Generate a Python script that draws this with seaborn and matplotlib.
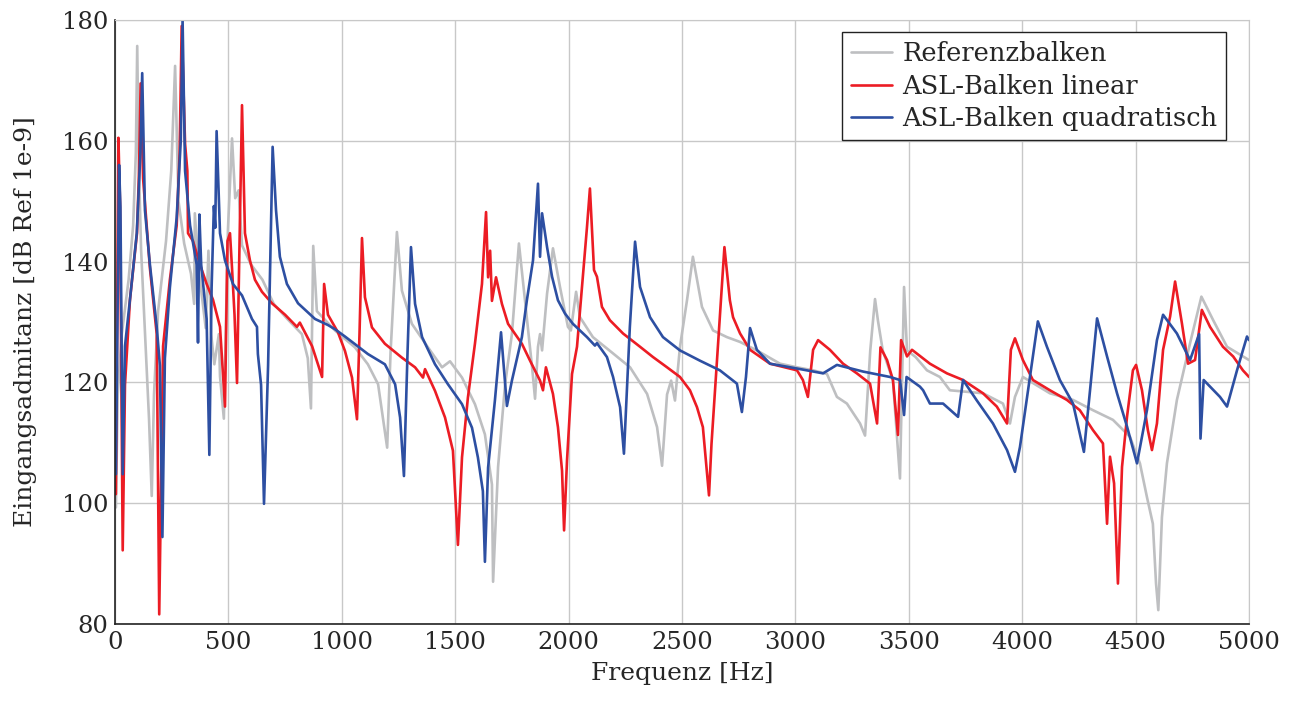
import pandas as pd
import seaborn as sns
import matplotlib.pyplot as plt

# Referenzbalken (gray)
ref_f = [4, 12, 30, 60, 80, 92, 98, 104, 115, 135, 150, 162, 172, 190, 225, 248, 265, 280,
         305, 335, 349, 352, 368, 400, 412, 424, 438, 458, 463, 480, 498, 516, 530, 545, 560,
         600, 650, 700, 760, 824, 850, 864, 874, 890, 970, 1058, 1115, 1160, 1200, 1215, 1243,
         1265, 1309, 1380, 1442, 1477, 1530, 1587, 1631, 1662, 1667, 1689, 1720, 1750, 1781,
         1808, 1839, 1852, 1865, 1874, 1883, 1905, 1931, 1962, 1997, 2010, 2033, 2050, 2107,
         2196, 2271, 2346, 2390, 2412, 2434, 2452, 2469, 2491, 2522, 2548, 2588, 2637, 2698,
         2756, 2830, 2932, 3007, 3078, 3139, 3183, 3227, 3285, 3307, 3330, 3351, 3364, 3385,
         3430, 3461, 3479, 3492, 3530, 3580, 3637, 3681, 3827, 3915, 3946, 3968, 4003, 4122,
         4224, 4312, 4400, 4475, 4519, 4550, 4576, 4590, 4600, 4616, 4638, 4682, 4740, 4790,
         4842, 4903, 5000]
ref_db = [99.3, 118, 128, 137, 146, 158, 175.7, 158, 142, 126, 114, 101.2, 118, 131.8, 143.4,
          155, 172.4, 150, 143, 138, 133, 148, 139, 129, 141.8, 128, 123, 128, 121, 114, 145.3,
          160.4, 150.5, 151.8, 142.7, 139.5, 137, 133, 130.5, 128, 124, 115.7, 142.6, 131.8,
          128.6, 125.8, 123, 119.7, 109.2, 125, 144.9, 135.2, 129.7, 125.8, 122.5, 123.5, 120.8,
          116.4, 111.4, 103.1, 87, 106, 119.7, 128, 143, 133.5, 122.5, 117.3, 125.9, 128, 125.3,
          134.7, 142.2, 135.8, 129.2, 128.6, 135, 130.8, 127.5, 124.8, 122.5, 118.1, 112.6,
          106.2, 118, 120.3, 117, 125.9, 133.6, 140.8, 132.5, 128.6, 127.5, 126.7, 125.3, 123.1,
          122.5, 122, 121.4, 117.6, 116.5, 113.2, 111.2, 125.3, 133.8, 130.2, 125.3, 120.3,
          104.1, 135.8, 125.3, 124.2, 122, 120.9, 118.7, 118.2, 116.5, 113.2, 117.6, 120.9,
          118.2, 117.1, 115.4, 113.8, 111, 106.6, 101, 96.6, 86.7, 82.3, 97.7, 106.6, 117.1,
          126.5, 134.2, 130.3, 125.9, 123.7]

# ASL-Balken linear (red)
lin_f = [4, 15, 22, 34, 44, 66, 97, 106, 113, 124, 154, 184, 195, 212, 242, 272, 285, 294,
         309, 319, 322, 344, 375, 404, 432, 463, 485, 496, 507, 516, 527, 538, 560, 573, 595,
         617, 648, 692, 750, 802, 815, 869, 913, 922, 939, 983, 1014, 1045, 1067, 1078, 1089,
         1102, 1133, 1190, 1265, 1323, 1358, 1367, 1411, 1455, 1490, 1512, 1530, 1556, 1587,
         1618, 1636, 1645, 1654, 1662, 1680, 1706, 1733, 1794, 1830, 1874, 1887, 1900, 1931,
         1953, 1971, 1980, 1993, 2015, 2037, 2059, 2081, 2094, 2112, 2125, 2147, 2182, 2240,
         2315, 2372, 2434, 2491, 2535, 2566, 2592, 2619, 2630, 2654, 2687, 2711, 2725, 2756,
         2800, 2888, 3007, 3033, 3055, 3078, 3100, 3152, 3210, 3271, 3329, 3360, 3375, 3404,
         3430, 3452, 3466, 3492, 3514, 3593, 3668, 3739, 3827, 3888, 3933, 3950, 3968, 4003,
         4047, 4122, 4197, 4254, 4312, 4356, 4374, 4387, 4405, 4422, 4440, 4462, 4488, 4502,
         4528, 4554, 4572, 4594, 4621, 4652, 4674, 4704, 4731, 4762, 4792, 4828, 4885, 4930,
         4973, 5000]
lin_db = [101.5, 160.5, 149.8, 92.2, 119.6, 133.7, 144.7, 155, 169.5, 153.7, 138.9, 128, 81.6,
          126, 137, 146, 158, 179, 159.5, 155, 144.7, 143.4, 139.5, 136.3, 133.7, 129.2, 116,
          143.4, 144.7, 138.9, 131.2, 119.9, 165.9, 144.7, 140.2, 137, 135, 133.1, 131.2, 129.2,
          129.9, 126, 120.9, 136.3, 131.2, 128.3, 125.2, 120.8, 113.9, 128, 143.9, 134.1, 129.1,
          126.4, 124.1, 122.5, 120.8, 122.2, 118.6, 114.2, 108.7, 93.1, 107.6, 117.5, 126.4,
          136.3, 148.2, 137.4, 141.8, 133.5, 137.4, 133, 129.7, 126.4, 123.6, 120.3, 118.7,
          122.5, 118.1, 112.6, 105.4, 95.5, 107.1, 121.4, 125.9, 135.8, 145.7, 152.1, 138.6,
          137.5, 132.5, 130.3, 128.1, 125.9, 124.2, 122.5, 120.9, 118.7, 115.9, 112.6, 101.3,
          109.8, 123.6, 142.4, 133.6, 130.8, 128.1, 125.4, 123.1, 122, 120.4, 117.6, 125.4, 127,
          125.4, 123.1, 121.5, 119.8, 113.2, 125.8, 123.7, 120.4, 111.3, 127, 124.3, 125.4,
          123.1, 121.5, 120.4, 118.2, 116, 113.2, 125.4, 127.3, 123.7, 120.4, 118.7, 117.1,
          115.4, 112.1, 109.9, 96.6, 107.7, 103.3, 86.7, 106, 114.3, 122, 122.9, 118.7, 112.1,
          108.8, 113.2, 125.4, 130.9, 136.7, 129.8, 123.1, 123.7, 132, 129.2, 125.9, 124.3,
          122, 120.9]

# ASL-Balken quadratisch (blue)
quad_f = [4, 18, 24, 34, 44, 66, 96, 112, 120, 132, 154, 184, 198, 209, 220, 242, 272, 290,
          298, 309, 331, 360, 366, 372, 380, 404, 416, 426, 436, 442, 448, 463, 485, 520, 560,
          604, 626, 630, 644, 657, 675, 695, 710, 727, 758, 807, 882, 939, 970, 1014, 1115,
          1190, 1235, 1257, 1274, 1290, 1305, 1323, 1354, 1411, 1468, 1530, 1574, 1600, 1622,
          1631, 1645, 1675, 1702, 1711, 1728, 1750, 1794, 1816, 1843, 1865, 1874, 1883, 1905,
          1927, 1953, 1984, 2019, 2081, 2116, 2125, 2169, 2196, 2227, 2244, 2270, 2293, 2315,
          2359, 2416, 2491, 2579, 2667, 2725, 2742, 2764, 2782, 2800, 2830, 2888, 3007, 3122,
          3183, 3298, 3417, 3461, 3479, 3490, 3549, 3563, 3593, 3651, 3717, 3739, 3800, 3871,
          3933, 3968, 3990, 4034, 4069, 4109, 4166, 4224, 4272, 4299, 4330, 4374, 4418, 4462,
          4506, 4550, 4594, 4621, 4682, 4740, 4780, 4786, 4800, 4872, 4903, 4947, 4991, 5000]
quad_db = [104.8, 156, 149, 104.8, 126, 133.7, 144.7, 158, 171.2, 148.5, 139.5, 129.2, 122.8,
           94.4, 124, 135.7, 147.3, 160, 180, 155, 146, 139.5, 126.6, 147.8, 139.5, 130.5, 108,
           135.7, 149.2, 145.6, 161.6, 144.7, 140.2, 136.3, 134.4, 130.5, 129.2, 124.7, 119.6,
           99.9, 122.8, 159, 148.5, 140.8, 136.3, 133.1, 130.5, 129.5, 128.8, 127.6, 124.7, 123,
           119.7, 114.2, 104.5, 125.2, 142.4, 133, 127.5, 123, 119.7, 116.4, 112.5, 107.6, 102,
           90.3, 105.9, 117, 128.3, 124.1, 116.1, 120.3, 127.5, 133.6, 140.2, 152.9, 140.8, 148,
           142.4, 137.5, 133.6, 131.4, 129.7, 127.5, 126.1, 126.5, 124.2, 120.9, 115.9, 108.2,
           129.2, 143.3, 135.8, 130.8, 127.5, 125.3, 123.6, 122, 120.3, 119.8, 115.1, 120.9, 129,
           125.4, 123.1, 122.3, 121.5, 122.9, 121.8, 120.9, 120.4, 114.6, 120.9, 119.3, 118.7,
           116.5, 116.5, 114.3, 120.4, 117, 113.2, 108.8, 105.2, 109.3, 120.9, 130.1, 125.9,
           120.4, 116.5, 108.5, 118.7, 130.6, 124.3, 118.2, 112.7, 106.6, 115.4, 127, 131.2,
           128.1, 123.7, 128, 110.7, 120.4, 117.6, 116, 122, 127.6, 127]

names = ["Referenzbalken", "ASL-Balken linear", "ASL-Balken quadratisch"]
colors = ["#BEBFC1", "#EC1C24", "#2D4FA2"]

df = pd.concat([
    pd.DataFrame({"f": ref_f, "db": ref_db, "Kurve": names[0]}),
    pd.DataFrame({"f": lin_f, "db": lin_db, "Kurve": names[1]}),
    pd.DataFrame({"f": quad_f, "db": quad_db, "Kurve": names[2]}),
])

sns.set_style("white")
plt.rcParams["font.family"] = ["DejaVu Serif"]

fig = plt.figure(figsize=(12.95, 7.04), dpi=100)
ax = fig.add_axes([0.0888, 0.1136, 0.8757, 0.858])

sns.lineplot(data=df, x="f", y="db", hue="Kurve", palette=dict(zip(names, colors)),
             sort=False, estimator=None, linewidth=1.9, ax=ax)

ax.set_xlim(0, 5000)
ax.set_ylim(80, 180)
ax.set_xticks(range(0, 5001, 500))
ax.set_yticks(range(80, 181, 20))
ax.grid(True, color="#C8C8C8", linewidth=1)
ax.set_axisbelow(True)
for s in ["top", "right"]:
    ax.spines[s].set_color("#C8C8C8")
for s in ["left", "bottom"]:
    ax.spines[s].set_color("#222222")
    ax.spines[s].set_linewidth(1.2)
ax.tick_params(labelsize=17.5, direction="in", length=4, color="#999999", pad=5)
ax.set_xlabel("Frequenz [Hz]", fontsize=18, labelpad=6)
ax.set_ylabel("Eingangsadmitanz [dB Ref 1e-9]", fontsize=18, labelpad=18)

leg = ax.legend(loc="upper right", bbox_to_anchor=(0.98, 0.98), borderaxespad=0,
                fontsize=18.5, handlelength=1.6, handletextpad=0.4, labelspacing=0.3,
                borderpad=0.35, fancybox=False, framealpha=1, edgecolor="#222222")
leg.get_frame().set_linewidth(1)

plt.savefig("out.png", dpi=100)
